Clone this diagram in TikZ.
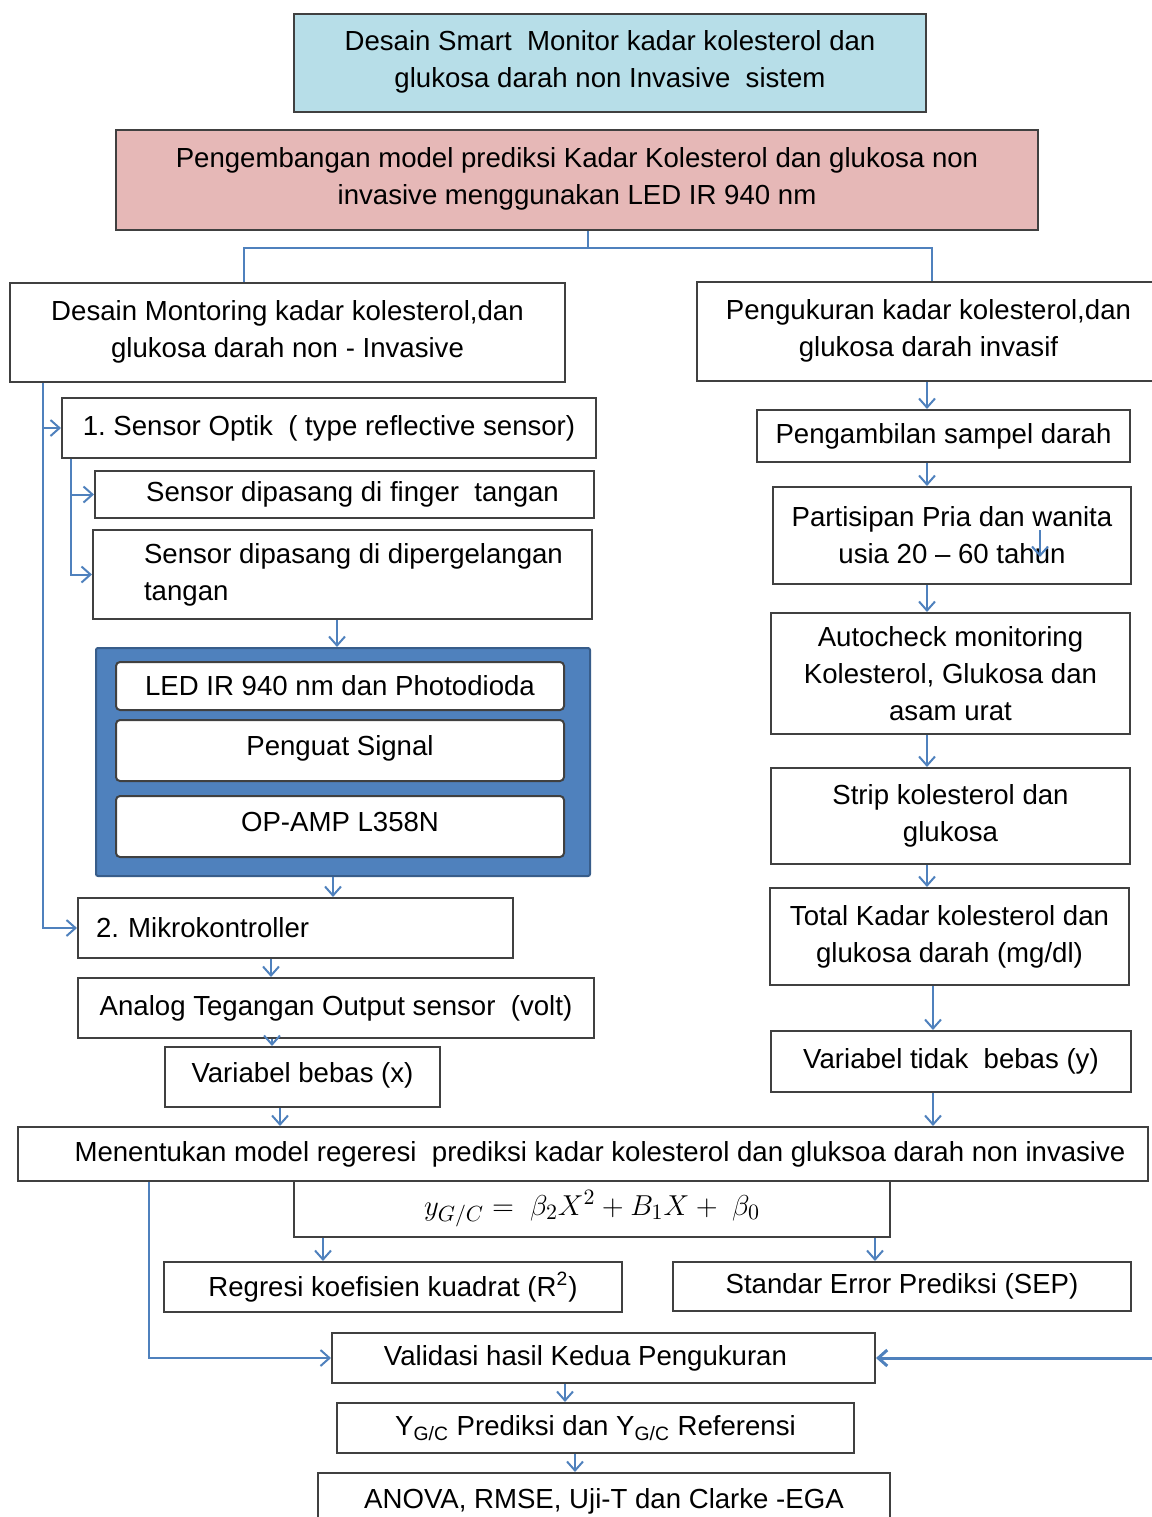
\documentclass[tikz,border=0pt]{standalone}
\usepackage{fontspec}
\setmainfont{Liberation Sans}
\usetikzlibrary{arrows.meta}
\definecolor{garis}{RGB}{79,129,189}
\definecolor{tepi}{RGB}{64,64,64}
\definecolor{judul}{RGB}{183,222,232}
\definecolor{merah}{RGB}{230,184,183}
\definecolor{bingkai}{RGB}{79,129,189}
\definecolor{bingkaitepi}{RGB}{56,93,138}
\frenchspacing
\tikzset{
  box/.style={draw=tepi, line width=1pt, fill=white, inner sep=0pt, align=center,
    font=\fontsize{13.8}{18.5}\selectfont},
  sz/.style 2 args={minimum width=#1*0.5pt, minimum height=#2*0.5pt},
  lft/.style={align=left, text width=#1*0.5pt},
  line/.style={draw=garis, line width=1pt},
  arr/.style={line, -{Straight Barb[length=4.5pt,width=8pt]}}
}

\begin{document}
\begin{tikzpicture}[x=0.5pt,y=-0.5pt]
\useasboundingbox (0,0) rectangle (1152,1517);

% judul
\node[box, fill=judul, sz={632}{98}, text depth=4pt] (judul) at (610,63) {Desain Smart~ Monitor kadar kolesterol dan\\glukosa darah non Invasive~ sistem};
\node[box, fill=merah, sz={922}{100}, text depth=4pt] (prediksi) at (577,180) {Pengembangan model prediksi Kadar Kolesterol dan glukosa non\\invasive menggunakan LED IR 940 nm};

% kiri: non invasive
\node[box, sz={555}{99}, text depth=4pt] (nonInv) at (287.5,332.5) {Desain Montoring kadar kolesterol,dan\\glukosa darah non - Invasive};
\node[box, sz={534}{60}] (optik) at (329,428) {1. Sensor Optik~ ( type reflective sensor)};
\node[box, sz={499}{47}] (finger) at (344.5,494.5) {\hspace*{8pt}Sensor dipasang di finger~ tangan};
\node[box, sz={499}{89}, align=left] (gelang) at (342.5,574.5) {\hspace*{11pt}Sensor dipasang di dipergelangan\\\hspace*{11pt}tangan};
\node[draw=bingkaitepi, fill=bingkai, line width=1pt, rounded corners=1pt, inner sep=0pt, sz={494}{228}] (rangkaian) at (343,762) {};
\node[box, rounded corners=2pt, sz={448}{48}] (led) at (340,686) {LED IR 940 nm dan Photodioda};
\node[box, rounded corners=2pt, sz={448}{61}, text depth=5pt] (penguat) at (340,750.5) {Penguat Signal};
\node[box, rounded corners=2pt, sz={448}{61}, text depth=5pt] (opamp) at (340,826.5) {OP-AMP L358N};
\node[box, sz={435}{60}, lft=399] (mikro) at (295.5,928) {2. Mikrokontroller};
\node[box, sz={516}{60}] (analog) at (336,1008) {Analog Tegangan Output sensor~ (volt)};
\node[box, sz={275}{60}, text depth=4.5pt] (bebas) at (302.5,1077) {Variabel bebas (x)};

% kanan: invasif
\node[box, sz={463}{99}, text depth=4pt] (invasif) at (928.5,331.5) {Pengukuran kadar kolesterol,dan\\glukosa darah invasif};
\node[box, sz={373}{52}] (sampel) at (943.5,436) {Pengambilan sampel darah};
\node[box, sz={358}{97}] (partisipan) at (952,535.5) {Partisipan Pria dan wanita\\usia 20 -- 60 tahun};
\node[box, sz={359}{121}] (autocheck) at (950.5,673.5) {Autocheck monitoring\\Kolesterol, Glukosa dan\\asam urat};
\node[box, sz={359}{96}] (strip) at (950.5,816) {Strip kolesterol dan\\glukosa};
\node[box, sz={359}{97}] (total) at (949.5,936.5) {Total Kadar kolesterol dan\\glukosa darah (mg/dl)};
\node[box, sz={360}{61}] (tidakBebas) at (951,1061.5) {Variabel tidak~ bebas (y)};

% model dan validasi
\node[box, sz={1130}{54}] (model) at (583,1154) {\hspace*{17pt}Menentukan model regeresi~ prediksi kadar kolesterol dan gluksoa darah non invasive};
\node[box, sz={596}{56}] (rumus) at (592,1209) {\fontsize{15}{18}\selectfont$y_{G/C} =\; \beta_2X^2 + B_1X +\; \beta_0$};
\node[box, sz={458}{50}] (r2) at (393,1287) {Regresi koefisien kuadrat (R\textsuperscript{2})};
\node[box, sz={458}{49}] (sep) at (902,1286.5) {Standar Error Prediksi (SEP)};
\node[box, sz={543}{50}] (validasi) at (603.5,1358) {Validasi hasil Kedua Pengukuran\hspace*{18pt}};
\node[box, sz={517}{50}] (ygc) at (595.5,1428) {Y\textsubscript{G/C} Prediksi dan Y\textsubscript{G/C} Referensi};
\node[box, sz={572}{57}] (uji) at (604,1501.5) {ANOVA, RMSE, Uji-T dan Clarke -EGA};
\coordinate (kanan) at (1160,1358);
\coordinate (sisip) at (1040,530);

% cabang atas
\draw[line] (prediksi.south -| 588,0) -- ++(0,17) coordinate (cabang);
\draw[line] (nonInv.north -| 244,0) |- (cabang) -| (invasif.north -| 932,0);

% alur kiri
\draw[arr] (nonInv.south -| 43,0) |- (mikro.west);
\draw[arr] (optik.west -| 43,0) -- (optik.west);
\draw[arr] (optik.south -| 71,0) |- (gelang.west);
\draw[arr] (finger.west -| 71,0) -- (finger.west);
\draw[arr] (gelang.south -| 337,0) -- (rangkaian.north -| 337,0);
\draw[arr] (rangkaian.south -| 333,0) -- (mikro.north -| 333,0);
\draw[arr] (mikro.south -| 271,0) -- (analog.north -| 271,0);
\draw[arr] (analog.south -| 272,0) -- (bebas.north -| 272,0);
\draw[arr] (bebas.south -| 280,0) -- (model.north -| 280,0);

% alur kanan
\draw[arr] (invasif.south -| 927,0) -- (sampel.north -| 927,0);
\draw[arr] (sampel.south -| 927,0) -- (partisipan.north -| 927,0);
\draw[arr] (sisip) -- ++(0,27);
\draw[arr] (partisipan.south -| 927,0) -- (autocheck.north -| 927,0);
\draw[arr] (autocheck.south -| 927,0) -- (strip.north -| 927,0);
\draw[arr] (strip.south -| 927,0) -- (total.north -| 927,0);
\draw[arr] (total.south -| 933,0) -- (tidakBebas.north -| 933,0);
\draw[arr] (tidakBebas.south -| 933,0) -- (model.north -| 933,0);

% alur bawah
\draw[arr] (rumus.south -| 323,0) -- (r2.north -| 323,0);
\draw[arr] (rumus.south -| 875,0) -- (sep.north -| 875,0);
\draw[arr] (model.south -| 149,0) |- (validasi.west);
\draw[arr, line width=1.5pt] (kanan) -- (validasi.east);
\draw[arr] (validasi.south -| 565,0) -- (ygc.north -| 565,0);
\draw[arr] (ygc.south -| 575,0) -- (uji.north -| 575,0);
\end{tikzpicture}
\end{document}
